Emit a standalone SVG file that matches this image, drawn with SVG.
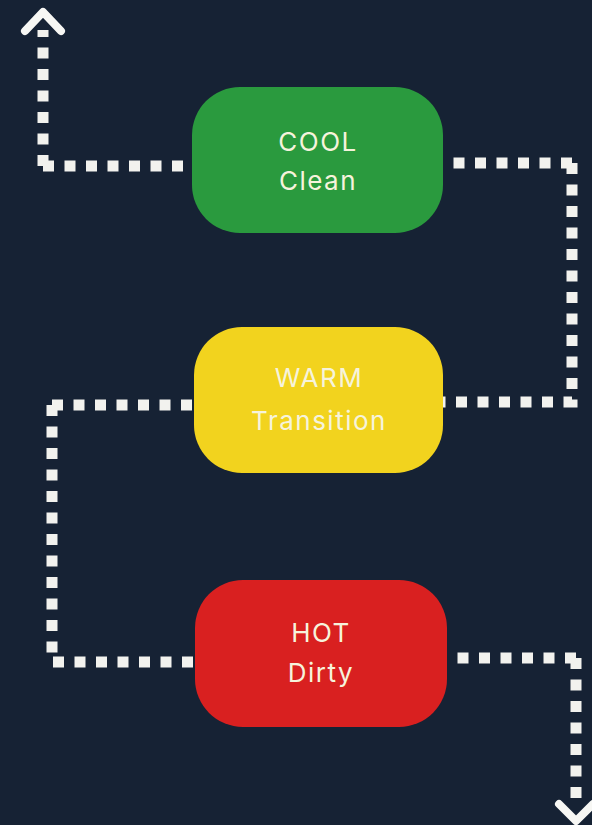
<svg xmlns="http://www.w3.org/2000/svg" width="592" height="825" viewBox="0 0 592 825">
<style>
.bg{fill:#162234}
.dot{fill:none;stroke:#f2f2ee;stroke-width:11;stroke-dasharray:11 10.5;stroke-linecap:butt;stroke-linejoin:miter}
.chev{fill:none;stroke:#f7f7f4;stroke-width:8;stroke-linecap:round;stroke-linejoin:round}
.lbl{font-family:Inter,"Noto Sans","Liberation Sans",sans-serif;font-size:26px;letter-spacing:1.5px;fill:#f6f3dc;text-anchor:middle}
</style>
<rect class="bg" x="0" y="0" width="592" height="825"/>
<g id="connectors">
  <path class="dot" d="M43 166 H192"/>
  <path class="dot" d="M43 166 V30"/>
  <polyline class="chev" points="25,31 43,12 61,31"/>
  <path class="dot" d="M572 163 H443"/>
  <path class="dot" d="M572 163 V402 H443"/>
  <path class="dot" d="M52 405 H194"/>
  <path class="dot" d="M52 405 V662 H195"/>
  <path class="dot" d="M576 658 H447"/>
  <path class="dot" d="M576 658 V805"/>
  <polyline class="chev" points="559,804 576,821 593,804"/>
</g>
<g id="cool">
  <rect x="192" y="87" width="251" height="146" rx="48" fill="#2a9a3e"/>
  <text class="lbl" x="318" y="151">COOL</text>
  <text class="lbl" x="318" y="190">Clean</text>
</g>
<g id="warm">
  <rect x="194" y="327" width="249" height="146" rx="48" fill="#f2d31e"/>
  <text class="lbl" x="319" y="387">WARM</text>
  <text class="lbl" x="319" y="430">Transition</text>
</g>
<g id="hot">
  <rect x="195" y="580" width="252" height="147" rx="48" fill="#d92020"/>
  <text class="lbl" x="321" y="642">HOT</text>
  <text class="lbl" x="321" y="682">Dirty</text>
</g>
</svg>
